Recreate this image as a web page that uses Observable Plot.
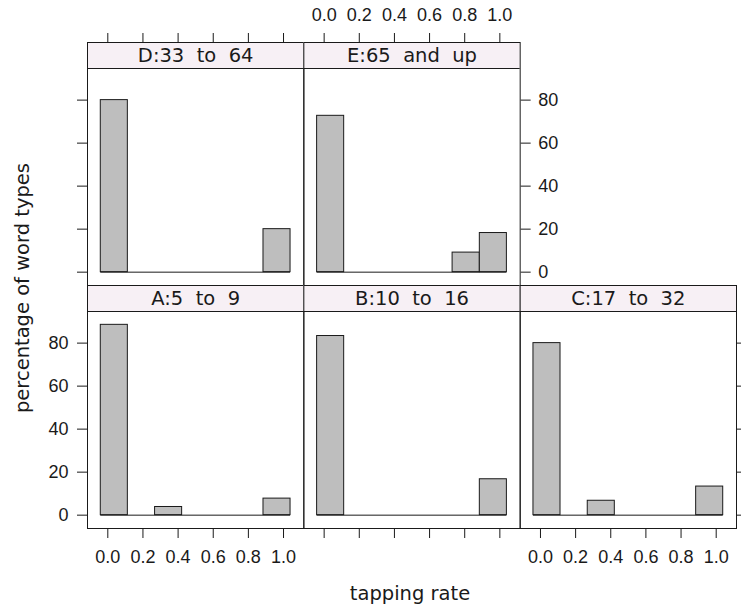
<!DOCTYPE html>
<html>
<head>
<meta charset="utf-8">
<script src="https://cdn.jsdelivr.net/npm/d3@7"></script>
<script src="https://cdn.jsdelivr.net/npm/@observablehq/plot@0.6"></script>
<style>
  html, body { margin: 0; padding: 0; background: #fff; }
  #chart { position: relative; width: 741px; height: 607px; overflow: hidden; font-family: "DejaVu Sans", sans-serif; }
  #chart svg { position: absolute; left: 0; top: 0; background: none !important; }
  .lab { position: absolute; color: #1a1a1a; font-size: 19.5px; white-space: nowrap; font-family: "DejaVu Sans", sans-serif; }
</style>
</head>
<body>
<div id="chart"></div>
<script>
// ---- data ----
const panels = ["A:5  to  9", "B:10  to  16", "C:17  to  32", "D:33  to  64", "E:65  and  up"];
// histogram break points (tapping rate)
const breaks = [-0.04, 0.114, 0.269, 0.423, 0.577, 0.731, 0.886, 1.04];
// percentage of word types per bin, one array per panel
const pctA = [88.5, 0, 3.8, 0, 0, 0, 7.7];
const pctB = [83.3, 0, 0, 0, 0, 0, 16.7];
const pctC = [80.0, 0, 6.7, 0, 0, 0, 13.3];
const pctD = [80.0, 0, 0, 0, 0, 0, 20.0];
const pctE = [72.7, 0, 0, 0, 0, 9.1, 18.2];
const xTicks = [0.0, 0.2, 0.4, 0.6, 0.8, 1.0];
const yTicks = [0, 20, 40, 60, 80];
const xLabel = "tapping rate";
const yLabel = "percentage of word types";

// ---- layout ----
const W = 741, H = 607;
const colX = [87, 303.33, 519.67, 736];
const rowY = [{strip: 42, body: 68, bottom: 285}, {strip: 285, body: 311, bottom: 528}];
const xDomain = [-0.1156, 1.1156];
const yLo = -6.2, yHi = 94.7;
const tickFont = "'Liberation Sans', Arial, sans-serif";

function panel(name, vals, col, row, ax) {
  const r = rowY[row];
  const k = (r.bottom - r.body) / (yHi - yLo);
  const yTop = yHi + (r.body - r.strip) / k; // strip sits above the panel body
  const bins = vals.map((v, i) => ({x1: breaks[i], x2: breaks[i + 1], y: v}));
  const fmt = d => d.toFixed(1);
  const none = () => "";
  const marks = [
    Plot.rect([0], {x1: xDomain[0], x2: xDomain[1], y1: yHi, y2: yTop, fill: "#f7f0f5"}),
    Plot.rectY(bins, {x1: "x1", x2: "x2", y1: 0, y2: "y", fill: "#bebebe", stroke: "#1a1a1a", strokeWidth: 1}),
    Plot.ruleY([0], {x1: breaks[0], x2: breaks[breaks.length - 1], stroke: "#1a1a1a", strokeWidth: 1}),
    Plot.ruleY([yHi], {stroke: "#1a1a1a"}),
    Plot.text([name], {x: (xDomain[0] + xDomain[1]) / 2, y: (yHi + yTop) / 2, text: d => d, fontSize: 19.5, fill: "#1a1a1a", fontFamily: "DejaVu Sans"}),
    Plot.frame({stroke: "#1a1a1a"})
  ];
  const common = {tickSize: 10, fontSize: 18, label: null, stroke: "#1a1a1a", fill: "#1a1a1a", fontFamily: tickFont};
  if (ax.top) marks.push(Plot.axisX(xTicks, {...common, anchor: "top", tickPadding: 12, tickFormat: ax.top === "lab" ? fmt : none}));
  if (ax.bottom) marks.push(Plot.axisX(xTicks, {...common, anchor: "bottom", tickPadding: 12, tickFormat: ax.bottom === "lab" ? fmt : none}));
  if (ax.left) marks.push(Plot.axisY(yTicks, {...common, anchor: "left", tickPadding: 9, tickFormat: ax.left === "lab" ? d => String(d) : none}));
  if (ax.right) marks.push(Plot.axisY(yTicks, {...common, anchor: "right", tickPadding: 8, tickFormat: ax.right === "lab" ? d => String(d) : none}));
  return Plot.plot({
    width: W, height: H,
    marginLeft: colX[col], marginRight: W - colX[col + 1],
    marginTop: r.strip, marginBottom: H - r.bottom,
    style: {fontFamily: tickFont, color: "#1a1a1a", background: "none", overflow: "visible"},
    x: {domain: xDomain, axis: null},
    y: {domain: [yLo, yTop], axis: null},
    marks
  });
}

const chart = document.getElementById("chart");
chart.append(panel(panels[3], pctD, 0, 0, {top: "tick", left: "tick"}));
chart.append(panel(panels[4], pctE, 1, 0, {top: "lab", right: "lab"}));
chart.append(panel(panels[0], pctA, 0, 1, {bottom: "lab", left: "lab"}));
chart.append(panel(panels[1], pctB, 1, 1, {bottom: "tick"}));
chart.append(panel(panels[2], pctC, 2, 1, {bottom: "lab", right: "tick"}));

const xl = document.createElement("div");
xl.className = "lab"; xl.textContent = xLabel;
xl.style.left = "410px"; xl.style.top = "593px"; xl.style.transform = "translate(-50%,-50%)";
chart.append(xl);
const yl = document.createElement("div");
yl.className = "lab"; yl.textContent = yLabel;
yl.style.left = "22px"; yl.style.top = "288px"; yl.style.transform = "translate(-50%,-50%) rotate(-90deg)";
chart.append(yl);
</script>
</body>
</html>
